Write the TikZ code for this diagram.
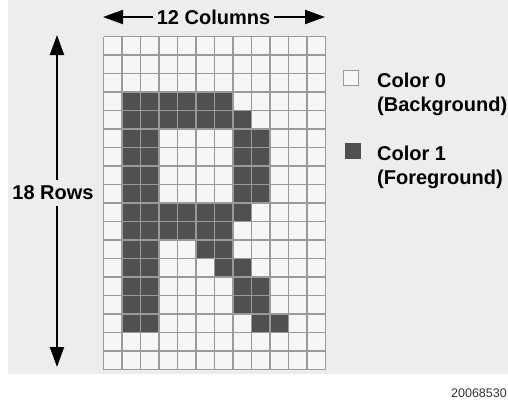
\documentclass[tikz,border=0pt]{standalone}
\usepackage{fontspec}
\setmainfont{Liberation Sans}
\usetikzlibrary{arrows.meta,positioning}
\definecolor{bggray}{HTML}{EDEDED}
\definecolor{cellfill}{HTML}{F6F6F6}
\definecolor{gridline}{HTML}{9A9A9A}
\definecolor{fgcell}{HTML}{505050}
\begin{document}
\begin{tikzpicture}[x=1pt,y=-1pt,
  dimarrow/.style={line width=2pt,-{Triangle[length=20pt,width=14pt]}},
  lbl/.style={font=\fontsize{20}{24}\selectfont\bfseries,inner xsep=4pt,inner ysep=6pt},
  keytext/.style={font=\fontsize{20}{24}\selectfont\bfseries,align=left,inner sep=0pt,anchor=base west},
  swatch/.style={draw=gridline,line width=1pt,minimum size=15pt,inner sep=0pt},
  gridln/.style={draw=gridline,line width=1.2pt}]
  \useasboundingbox (0,0) rectangle (508,400);
  \fill[bggray] (8,0) rectangle (508,374);
  \fill[cellfill] (103.5,36.5) rectangle (325.5,369.5);
  \foreach \c/\r in {1/3,2/3,3/3,4/3,5/3,6/3,
      1/4,2/4,3/4,4/4,5/4,6/4,7/4,
      1/5,2/5,7/5,8/5, 1/6,2/6,7/6,8/6, 1/7,2/7,7/7,8/7, 1/8,2/8,7/8,8/8,
      1/9,2/9,3/9,4/9,5/9,6/9,7/9,
      1/10,2/10,3/10,4/10,5/10,6/10,
      1/11,2/11,5/11,6/11, 1/12,2/12,6/12,7/12,
      1/13,2/13,7/13,8/13, 1/14,2/14,7/14,8/14, 1/15,2/15,8/15,9/15}
    \fill[fgcell] (103.5+\c*18.5,36.5+\r*18.5) rectangle ++(18.5,18.5);
  \foreach \i in {0,...,12} \draw[gridln] (103.5+\i*18.5,36.5) -- ++(0,333);
  \foreach \j in {0,...,18} \draw[gridln] (103.5,36.5+\j*18.5) -- ++(222,0);
  \coordinate (colL) at (103,17);
  \coordinate (colR) at (325,17);
  \node[lbl] (cols) at (213.5,17) {12 Columns};
  \draw[dimarrow] (cols.west) -- (colL); \draw[dimarrow] (cols.east) -- (colR);
  \coordinate (rowT) at (57,35);
  \coordinate (rowB) at (57,367);
  \node[lbl] (rows) at (53,193) {18 Rows};
  \draw[dimarrow] (rows.north -| rowT) -- (rowT); \draw[dimarrow] (rows.south -| rowB) -- (rowB);
  \node[swatch,fill=cellfill] (bgkey) at (351,78) {};
  \node[swatch,fill=fgcell,draw=fgcell] (fgkey) at (353,151) {};
  \node[keytext] (bgtext) at (377,111) {Color 0\\(Background)};
  \node[keytext] (fgtext) at (377,184) {Color 1\\(Foreground)};
  \node[font=\fontsize{12.5}{14}\selectfont,text=black!80,inner sep=0pt,anchor=base east] (figno) at (507,397) {20068530};
\end{tikzpicture}
\end{document}
